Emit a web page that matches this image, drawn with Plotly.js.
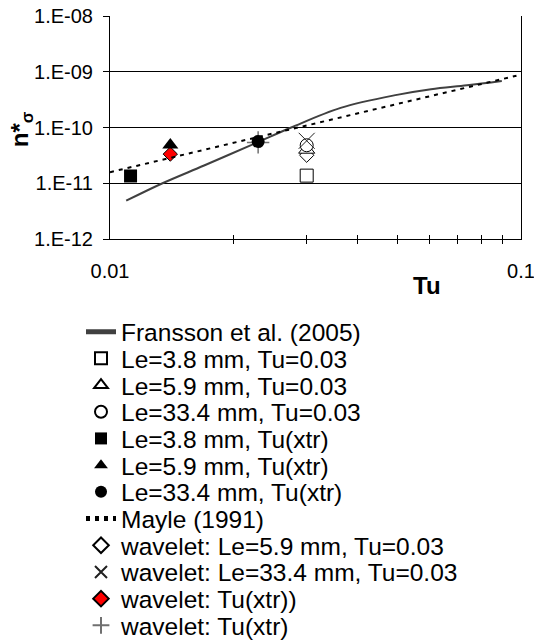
<!DOCTYPE html>
<html>
<head>
<meta charset="utf-8">
<script src="https://cdn.plot.ly/plotly-3.0.1.min.js"></script>
<style>html,body{margin:0;padding:0;background:#fff;}#chart{width:534px;height:641px;}</style>
</head>
<body>
<div id="chart"></div>
<script>
// ---- data ----
const fransTu = [0.01095, 0.01342, 0.01694, 0.0228, 0.0276, 0.0364, 0.0499, 0.0604, 0.0739, 0.0898];
const fransN  = [4.86e-12, 1.0e-11, 2.08e-11, 5.38e-11, 1.0e-10, 2.25e-10, 3.85e-10, 4.86e-10, 5.73e-10, 6.85e-10];

const mayleTu = [0.01, 0.015, 0.02, 0.03, 0.05, 0.07, 0.0975];
const mayleN  = [1.58e-11, 3.2e-11, 5.3e-11, 1.08e-10, 2.64e-10, 4.76e-10, 8.5e-10];

const le38_003_Tu = [0.0301], le38_003_N = [1.37e-11];
const le59_003_Tu = [0.0301], le59_003_N = [4.0e-11];
const le334_003_Tu = [0.0301], le334_003_N = [4.8e-11];
const le38_xtr_Tu = [0.01122], le38_xtr_N = [1.35e-11];
const le59_xtr_Tu = [0.01402], le59_xtr_N = [4.83e-11];
const le334_xtr_Tu = [0.02293], le334_xtr_N = [5.6e-11];
const wav59_003_Tu = [0.0301], wav59_003_N = [3.18e-11];
const wav334_003_Tu = [0.0301], wav334_003_N = [5.77e-11];
const wavXtrD_Tu = [0.01402], wavXtrD_N = [3.33e-11];
const wavXtrP_Tu = [0.02293], wavXtrP_N = [5.4e-11];

const legendLabels = [
  'Fransson et al. (2005)',
  'Le=3.8 mm, Tu=0.03',
  'Le=5.9 mm, Tu=0.03',
  'Le=33.4 mm, Tu=0.03',
  'Le=3.8 mm, Tu(xtr)',
  'Le=5.9 mm, Tu(xtr)',
  'Le=33.4 mm, Tu(xtr)',
  'Mayle (1991)',
  'wavelet: Le=5.9 mm, Tu=0.03',
  'wavelet: Le=33.4 mm, Tu=0.03',
  'wavelet: Tu(xtr))',
  'wavelet: Tu(xtr)'
];
const yTickVals = [1e-12, 1e-11, 1e-10, 1e-9, 1e-8];
const yTickText = ['1.E-12', '1.E-11', '1.E-10', '1.E-09', '1.E-08'];
const xTickVals = [0.01, 0.1];
const xTickText = ['0.01', '0.1'];
const xMinorVals = [0.02, 0.03, 0.04, 0.05, 0.06, 0.07, 0.08, 0.09];

// ---- styling ----
const FONT = 'Liberation Sans, Arial, sans-serif';
const W = 534, H = 641;
const XR = [-2.000001, -0.999999];
const legName = i => i === 0 ? 'legend' : 'legend' + (i + 1);

function mk(x, y, idx, marker, extra) {
  return Object.assign({
    type: 'scatter', mode: 'markers', x: x, y: y,
    name: legendLabels[idx], legend: legName(idx), showlegend: true,
    marker: marker, cliponaxis: false
  }, extra || {});
}
const openM = (sym, size) => ({symbol: sym, size: size, color: 'white', line: {color: 'black', width: 1}});

const traces = [];
traces.push({type: 'scatter', mode: 'lines', x: fransTu, y: fransN, name: legendLabels[0], legend: legName(0),
  line: {color: '#404040', width: 2, shape: 'spline', smoothing: 1}, showlegend: true});
traces.push({type: 'scatter', mode: 'lines', x: mayleTu, y: mayleN, name: legendLabels[7], legend: legName(7),
  xaxis: 'x2', line: {color: 'black', width: 2, dash: '4px,5px'}, showlegend: true});
traces.push(mk(le38_003_Tu, le38_003_N, 1, openM('square', 13)));
traces.push(mk(wav59_003_Tu, wav59_003_N, 8, openM('diamond', 11)));
traces.push(mk(le59_003_Tu, le59_003_N, 2, openM('triangle-up', 14)));
traces.push(mk(le334_003_Tu, le334_003_N, 3, openM('circle', 13)));
traces.push(mk(wav334_003_Tu, wav334_003_N, 9, {symbol: 'x-thin', size: 16, color: 'black', line: {color: '#202020', width: 1}}));
traces.push(mk(le38_xtr_Tu, le38_xtr_N, 4, {symbol: 'square', size: 13, color: 'black'}));
traces.push(mk(wavXtrD_Tu, wavXtrD_N, 10, {symbol: 'diamond', size: 11, color: '#ff0000', line: {color: 'black', width: 1}}));
traces.push(mk(le59_xtr_Tu, le59_xtr_N, 5, {symbol: 'triangle-up', size: 14, color: 'black'}));
traces.push(mk(wavXtrP_Tu, wavXtrP_N, 11, {symbol: 'cross-thin', size: 16, color: '#707070', line: {color: '#707070', width: 1.5}}));
traces.push(mk(le334_xtr_Tu, le334_xtr_N, 6, {symbol: 'circle', size: 13, color: 'black'}));

const layout = {
  width: W, height: H,
  margin: {l: 110, r: 13, t: 16, b: 402, pad: 0, autoexpand: false},
  paper_bgcolor: 'white', plot_bgcolor: 'white',
  font: {family: FONT, color: 'black', size: 20},
  showlegend: true,
  xaxis: {
    type: 'log', range: XR, tickmode: 'array', tickvals: xTickVals, ticktext: xTickText,
    ticks: '', showgrid: false, zeroline: false, showline: true, linecolor: 'black', linewidth: 1,
    tickfont: {family: FONT, size: 20, color: 'black'}, ticklabelstandoff: 14, automargin: false,
    ticklabeloverflow: 'allow',
    minor: {tickmode: 'array', tickvals: xMinorVals, ticks: 'inside', ticklen: 4, tickcolor: 'black', tickwidth: 1, showgrid: false},
    fixedrange: true
  },
  xaxis2: {
    type: 'log', range: XR, overlaying: 'x', anchor: 'y', side: 'bottom', automargin: false,
    showticklabels: false, ticks: '', showgrid: false, zeroline: false, showline: false,
    minor: {tickmode: 'array', tickvals: xMinorVals, ticks: 'outside', ticklen: 4, tickcolor: 'black', tickwidth: 1, showgrid: false},
    fixedrange: true
  },
  yaxis: {
    type: 'log', range: [-12, -8], tickmode: 'array', tickvals: yTickVals, ticktext: yTickText,
    ticks: 'outside', ticklen: 6, tickcolor: 'black', tickwidth: 1, automargin: false,
    showgrid: false, zeroline: false, showline: true, mirror: true, linecolor: 'black', linewidth: 1,
    tickfont: {family: FONT, size: 20, color: 'black'}, ticklabelstandoff: 6, ticklabeloverflow: 'allow',
    minor: {tickmode: 'array', tickvals: [1e-11, 1e-10, 1e-9], ticks: '', showgrid: true, gridcolor: 'black', gridwidth: 1},
    fixedrange: true
  },
  annotations: [
    {text: '<b>Tu</b>', xref: 'paper', yref: 'paper', x: 0.771, y: -0.209, xanchor: 'center', yanchor: 'middle',
     showarrow: false, font: {family: FONT, size: 24, color: 'black'}},
    {text: '<b>n*<sub>σ</sub></b>', xref: 'paper', yref: 'paper', x: -0.2157, y: 0.494, xanchor: 'center', yanchor: 'middle',
     textangle: -90, showarrow: false, font: {family: FONT, size: 24, color: 'black'}}
  ]
};

for (let i = 0; i < legendLabels.length; i++) {
  const ypx = 331.7 + 26.7 * i;
  layout[legName(i)] = {
    xref: 'container', yref: 'container', x: 81 / W, y: 1 - ypx / H,
    xanchor: 'left', yanchor: 'middle', bgcolor: 'rgba(0,0,0,0)', borderwidth: 0,
    font: {family: FONT, size: 24.5, color: 'black'}, itemsizing: 'constant', tracegroupgap: 0
  };
}

Plotly.newPlot('chart', traces, layout, {staticPlot: true, displayModeBar: false});
</script>
</body>
</html>
